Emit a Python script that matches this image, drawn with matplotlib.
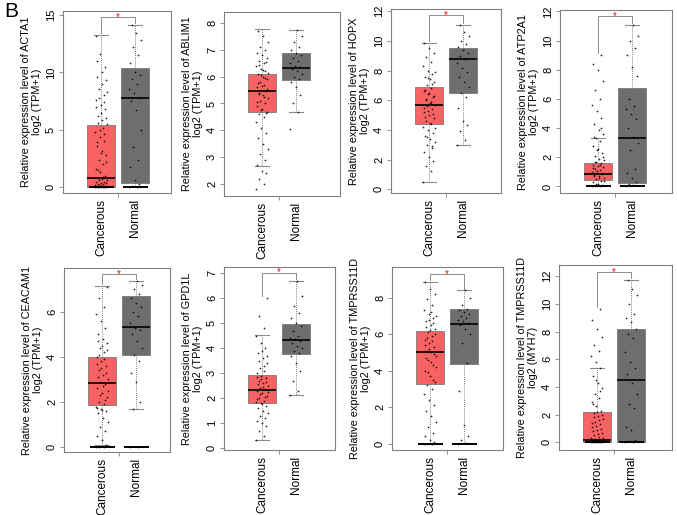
import numpy as np
import matplotlib
matplotlib.use("Agg")
import matplotlib.pyplot as plt

plt.rcParams['font.family'] = ['Liberation Sans', 'DejaVu Sans']

# ---- data ----
groups = ["Cancerous", "Normal"]
genes = ["ACTA1", "ABLIM1", "HOPX", "ATP2A1", "CEACAM1", "GPD1L", "TMPRSS11D", "TMPRSS11D"]
units = ["log2 (TPM+1)"] * 7 + ["log2 (MYH7)"]

# box stats per panel: [cancerous, normal]
q1 = [[0.0, 0.35], [4.69, 5.87], [4.4, 6.5], [0.46, 0.23],
      [1.87, 4.09], [1.8, 3.78], [3.25, 4.39], [0.0, 0.05]]
med = [[0.81, 7.75], [5.47, 6.34], [5.7, 8.75], [0.87, 3.34],
       [2.84, 5.31], [2.33, 4.33], [5.03, 6.58], [0.2, 4.5]]
q3 = [[5.42, 10.36], [6.08, 6.9], [6.9, 9.55], [1.6, 6.77],
      [3.98, 6.7], [2.91, 4.95], [6.16, 7.4], [2.16, 8.15]]
wlo = [[0.0, 0.0], [2.68, 4.69], [0.5, 3.0], [0.0, 0.0],
       [0.1, 1.7], [0.32, 2.12], [0.0, 0.05], [0.0, 0.0]]
whi = [[13.26, 14.13], [7.76, 7.75], [9.85, 11.1], [3.32, 11.08],
       [7.15, 7.36], [4.54, 6.7], [8.86, 8.4], [5.38, 11.7]]

# dense runs of zeros drawn as a black bar at 0
zero_bar = [[True, True], [False, False], [False, False], [True, True],
            [True, True], [False, False], [True, True], [True, True]]

# height of the significance bracket (None = not significant)
sig_y = [14.85, None, 11.75, 11.7, 7.7, 7.02, 9.3, 12.3]

ylims = [(-0.5, 15.35), (1.55, 8.41), (-0.25, 12.15), (-0.45, 12.1),
         (-0.22, 7.95), (-0.08, 7.24), (-0.35, 9.68), (-0.55, 12.8)]
yticks = [[0, 5, 10, 15], [2, 3, 4, 5, 6, 7, 8], [0, 2, 4, 6, 8, 10, 12],
          [0, 2, 4, 6, 8, 10, 12], [0, 2, 4, 6], [0, 1, 2, 3, 4, 5, 6, 7],
          [0, 2, 4, 6, 8], [0, 2, 4, 6, 8, 10, 12]]

cancer_pts = [
    [0, 0, 0, 0, 0, 0, 0, 0, 0.05, 0.1, 0.1, 0.15, 0.2, 0.2, 0.3, 0.3, 0.4, 0.4, 0.5, 0.5,
     0.6, 0.6, 0.7, 0.8, 1.0, 1.3, 1.6, 2.0, 2.4, 2.8, 3.2, 3.6, 4.0, 4.4, 4.8, 5.2,
     5.6, 6.0, 6.5, 7.0, 7.4, 7.8, 8.3, 9.0, 9.6, 10.5, 11.6, 13.2,
     0.9, 1.5, 2.2, 3.0, 3.9, 4.6, 5.0, 5.5, 5.9, 6.2, 6.8, 7.2, 7.6, 8.0, 8.6, 9.3, 10.0, 11.0],
    [1.8, 2.0, 2.2, 2.4, 2.5, 2.7, 2.9, 3.1, 3.3, 3.5, 3.7, 3.9, 4.1, 4.3, 4.5, 4.6, 4.7,
     4.8, 4.9, 5.0, 5.1, 5.2, 5.3, 5.4, 5.45, 5.5, 5.6, 5.7, 5.8, 5.9, 6.0, 6.1, 6.2,
     6.3, 6.4, 6.5, 6.6, 6.7, 6.8, 6.9, 7.0, 7.1, 7.3, 7.5, 7.7,
     4.65, 4.75, 5.05, 5.25, 5.35, 5.55, 5.65, 5.75, 5.95, 6.05, 6.15, 6.25, 6.45, 6.55],
    [0.5, 1.2, 1.6, 1.9, 2.2, 2.5, 2.8, 3.0, 3.2, 3.4, 3.6, 3.8, 4.0, 4.2, 4.4, 4.6, 4.8,
     5.0, 5.2, 5.4, 5.6, 5.7, 5.8, 6.0, 6.2, 6.4, 6.6, 6.8, 7.0, 7.2, 7.4, 7.6, 7.8,
     8.0, 8.3, 8.6, 8.9, 9.2, 9.5, 9.85,
     2.9, 3.5, 4.1, 4.5, 4.9, 5.1, 5.3, 5.5, 5.9, 6.1, 6.3, 6.5, 6.7, 7.1, 7.5, 7.9],
    [0, 0, 0, 0.1, 0.2, 0.3, 0.4, 0.5, 0.6, 0.7, 0.8, 0.85, 0.9, 1.0, 1.1, 1.2, 1.3, 1.4,
     1.5, 1.6, 1.7, 1.8, 1.9, 2.1, 2.3, 2.5, 2.8, 3.1, 3.3, 3.6, 3.9, 4.3, 4.7, 5.2,
     5.6, 6.0, 6.6, 7.2, 8.0, 8.4, 9.0,
     0.15, 0.35, 0.55, 0.75, 0.95, 1.05, 1.25, 1.45, 1.65, 2.0, 2.6, 3.4, 4.0],
    [0, 0, 0, 0.1, 0.3, 0.5, 0.7, 0.9, 1.1, 1.3, 1.5, 1.6, 1.7, 1.8, 1.9, 2.0, 2.2, 2.4,
     2.6, 2.8, 2.9, 3.0, 3.2, 3.4, 3.6, 3.8, 4.0, 4.2, 4.4, 4.6, 4.8, 5.0, 5.3, 5.6,
     5.9, 6.2, 6.6, 7.1,
     1.65, 1.75, 2.1, 2.3, 2.5, 2.7, 3.1, 3.3, 3.5, 3.7, 3.9, 4.1, 4.3, 4.5, 4.7],
    [0.32, 0.5, 0.7, 0.9, 1.0, 1.1, 1.2, 1.3, 1.4, 1.5, 1.6, 1.7, 1.8, 1.85, 1.9, 2.0,
     2.1, 2.2, 2.3, 2.35, 2.4, 2.5, 2.6, 2.7, 2.8, 2.9, 3.0, 3.1, 3.2, 3.4, 3.6, 3.8,
     4.0, 4.2, 4.5, 4.8, 5.3, 6.0,
     1.75, 1.95, 2.05, 2.15, 2.25, 2.45, 2.55, 2.65, 2.75, 2.85, 3.3, 3.5, 3.7, 3.9],
    [0, 0, 0, 0.1, 0.2, 0.4, 0.6, 0.9, 1.2, 1.5, 1.8, 2.1, 2.4, 2.7, 3.0, 3.2, 3.4, 3.7,
     4.0, 4.3, 4.6, 4.8, 5.0, 5.1, 5.3, 5.5, 5.7, 5.9, 6.1, 6.3, 6.5, 6.7, 6.9, 7.1,
     7.3, 7.6, 7.9, 8.2, 8.5, 8.86,
     3.5, 3.9, 4.2, 4.5, 4.7, 4.9, 5.2, 5.4, 5.6, 5.8, 6.0, 6.2, 6.4, 6.6, 6.8, 7.0, 7.2],
    [0, 0, 0, 0, 0, 0, 0, 0.05, 0.1, 0.1, 0.15, 0.2, 0.2, 0.3, 0.4, 0.5, 0.7, 0.9, 1.1,
     1.3, 1.5, 1.7, 1.9, 2.1, 2.3, 2.6, 2.9, 3.2, 3.5, 3.9, 4.3, 4.8, 5.4, 5.8, 6.2,
     6.6, 7.0, 7.6, 8.2, 8.8, 9.6,
     0.25, 0.35, 0.6, 0.8, 1.0, 1.2, 1.4, 1.6, 1.8, 2.0, 2.2, 2.8, 3.7, 4.5],
]
normal_pts = [
    [0, 0, 0.1, 0.3, 0.6, 1.8, 2.4, 3.5, 5.0, 6.7, 7.5, 7.8, 8.2, 8.6, 9.0, 9.4, 9.8,
     10.0, 10.8, 11.5, 12.2, 12.8, 13.4, 14.1],
    [4.05, 4.7, 5.0, 5.3, 5.6, 5.8, 5.9, 6.0, 6.1, 6.2, 6.3, 6.35, 6.4, 6.5, 6.6, 6.7,
     6.8, 6.9, 7.0, 7.1, 7.3, 7.5, 7.75],
    [3.0, 3.3, 3.9, 4.3, 4.6, 5.5, 6.2, 6.5, 6.9, 7.2, 7.6, 7.9, 8.2, 8.5, 8.8, 9.0, 9.2,
     9.4, 9.6, 9.8, 10.0, 10.3, 10.6, 11.1],
    [0, 0.1, 0.2, 0.3, 0.6, 0.9, 1.2, 2.5, 3.0, 3.4, 4.0, 4.6, 5.0, 5.3, 5.5, 6.0, 7.6,
     8.2, 9.0, 9.5, 10.0, 10.3, 11.1],
    [0, 0, 1.7, 2.0, 2.9, 3.3, 3.8, 4.1, 4.4, 4.7, 5.0, 5.2, 5.3, 5.5, 5.8, 6.0, 6.2,
     6.4, 6.6, 6.8, 7.0, 7.2, 7.36],
    [2.12, 2.3, 2.7, 3.1, 3.4, 3.7, 3.8, 3.9, 4.0, 4.1, 4.2, 4.3, 4.35, 4.4, 4.5, 4.7,
     4.9, 5.0, 5.2, 5.4, 5.7, 6.1, 6.7],
    [0, 0.05, 0.2, 0.4, 1.0, 2.9, 4.4, 5.5, 6.0, 6.3, 6.5, 6.6, 6.7, 6.8, 6.9, 7.0, 7.1,
     7.2, 7.3, 7.4, 7.6, 8.0, 8.4],
    [0, 0.05, 0.1, 0.2, 0.9, 1.1, 2.5, 2.8, 3.5, 4.3, 4.9, 5.4, 5.8, 6.5, 7.5, 7.8, 8.2,
     8.7, 9.0, 9.3, 10.0, 10.6, 11.1, 11.7],
]

# ---- layout (pixel boxes of each panel frame: left, top, right, bottom) ----
W, H = 677, 515
frames = [(63, 11, 171, 193), (224, 12, 340, 196), (391, 9, 501, 193), (560, 10, 672, 193),
          (64, 268, 170, 452), (224, 267, 335, 450), (392, 267, 503, 450), (559, 265, 672, 450)]

box_colors = ["#F86262", "#6E6E6E"]
frame_col = "#808080"
PX_PER_UNIT = 34.0   # horizontal spacing between the two boxes
BOX_W = 0.82

fig = plt.figure(figsize=(W / 100, H / 100), dpi=100)
fig.text(0.006, 0.997, "B", fontsize=15, va="top", ha="left")

for i in range(8):
    l, t, r, b = frames[i]
    ax = fig.add_axes([l / W, 1 - b / H, (r - l) / W, (b - t) / H])

    stats = []
    for g in range(2):
        stats.append(dict(med=med[i][g], q1=q1[i][g], q3=q3[i][g],
                          whislo=wlo[i][g], whishi=whi[i][g], fliers=[]))
    bp = ax.bxp(stats, positions=[1, 2], widths=BOX_W, capwidths=0.4,
                patch_artist=True, showfliers=False, manage_ticks=False,
                boxprops=dict(linewidth=0.6, edgecolor="#7a7a7a"),
                medianprops=dict(color="black", linewidth=1.2),
                whiskerprops=dict(color="#555555", linewidth=0.6, linestyle=(0, (1, 1.5))),
                capprops=dict(color="#8c8c8c", linewidth=0.8))
    for patch, c in zip(bp["boxes"], box_colors):
        patch.set_facecolor(c)

    # jittered points
    for g, pts in enumerate([cancer_pts[i], normal_pts[i]]):
        pts = np.array(pts)
        k = np.arange(len(pts))
        jit = ((k * 0.6180339) % 1.0 - 0.5) * 0.36
        ax.scatter(1 + g + jit, pts, s=1.6, color="black", alpha=0.85,
                   linewidths=0, zorder=4)
        if zero_bar[i][g]:
            ax.hlines(0, 1 + g - BOX_W * 0.45, 1 + g + BOX_W * 0.45,
                      color="black", linewidth=1.4, zorder=5)

    # significance bracket
    if sig_y[i] is not None:
        y = sig_y[i]
        gap = 0.01 * (ylims[i][1] - ylims[i][0])
        top_c = max(whi[i][0], max(cancer_pts[i])) + gap
        top_n = max(whi[i][1], max(normal_pts[i])) + gap
        ax.plot([1, 1, 2, 2], [top_c, y, y, top_n], color="#8c8c8c", linewidth=0.7, zorder=3)
        ax.text(1.5, y, "*", color="red", fontsize=7, ha="center", va="center", zorder=6)

    xmax = -0.12 + (r - l) / PX_PER_UNIT
    ax.set_xlim(-0.12, xmax)
    ax.set_ylim(*ylims[i])
    ax.set_yticks(yticks[i])
    ax.set_xticks([1, 2])
    ax.set_xticklabels(groups, rotation=90, fontsize=8.5)
    ax.set_xticks([1.5], minor=True)
    ax.tick_params(axis="x", which="major", length=0, pad=4)
    ax.tick_params(axis="x", which="minor", length=3, color=frame_col, width=0.6)
    ax.tick_params(axis="y", labelrotation=90, labelsize=8, length=3, width=0.6,
                   color=frame_col, pad=2)
    for lab in ax.get_yticklabels():
        lab.set_va("center")
    for sp in ax.spines.values():
        sp.set_color(frame_col)
        sp.set_linewidth(0.8)
    ax.set_ylabel("Relative expression level of " + genes[i] + "\n" + units[i],
                  fontsize=7.8, labelpad=3, linespacing=1.15)

fig.savefig("out.png", dpi=100)
